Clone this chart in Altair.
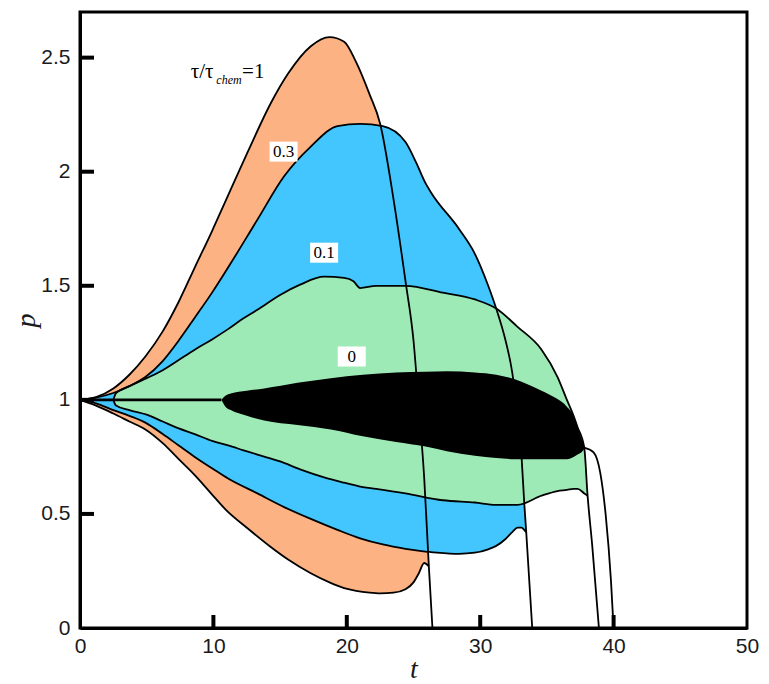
import altair as alt
import pandas as pd

# ---------------- data ----------------
# tau/tau_chem = 1 (orange)
ORANGE_T = [0, 1.2, 2.5, 3.7, 4.9, 6.2, 7.4, 8.6, 9.9, 10.9, 12.6, 14.3, 15.6, 17.3, 18.7,
            19.8, 20.7, 21.7, 22.5, 23.5, 24.4, 25.0, 25.4, 25.8, 26.15]
ORANGE_UP = [1.0, 1.012, 1.05, 1.11, 1.19, 1.30, 1.43, 1.58, 1.74, 1.87, 2.09, 2.30, 2.43, 2.55, 2.59,
             2.57, 2.48, 2.34, 2.21, 1.88, 1.52, 1.26, 0.97, 0.66, 0.27]
ORANGE_LO = [1.0, 0.975, 0.94, 0.905, 0.87, 0.81, 0.74, 0.67, 0.585, 0.52, 0.435, 0.355, 0.30, 0.24, 0.20,
             0.175, 0.163, 0.155, 0.152, 0.155, 0.17, 0.20, 0.24, 0.285, 0.27]
ORANGE_TAIL_T = [26.42]
ORANGE_TAIL_P = [0.0]

# tau/tau_chem = 0.3 (blue)
BLUE_T = [0, 1.2, 2.5, 3.7, 4.9, 6.2, 7.4, 8.6, 9.9, 11.1, 13.3, 15.3, 17.3, 19.3, 21.0, 22.7,
          24.4, 25.2, 25.9, 26.3, 28.4, 29.6, 30.6, 31.2, 31.9, 32.4, 32.8, 33.1, 33.3, 33.45]
BLUE_UP = [1.0, 1.01, 1.03, 1.06, 1.10, 1.17, 1.26, 1.36, 1.47, 1.58, 1.79, 1.98, 2.11, 2.20, 2.21, 2.20,
           2.13, 2.04, 1.95, 1.91, 1.75, 1.64, 1.50, 1.40, 1.26, 1.12, 0.93, 0.75, 0.55, 0.42]
BLUE_LO = [1.0, 0.985, 0.955, 0.93, 0.90, 0.85, 0.80, 0.75, 0.70, 0.655, 0.59, 0.53, 0.478, 0.43, 0.393, 0.366,
           0.347, 0.34, 0.335, 0.333, 0.325, 0.33, 0.345, 0.36, 0.39, 0.42, 0.44, 0.44, 0.43, 0.42]
BLUE_TAIL_T = [33.9]
BLUE_TAIL_P = [0.0]

# tau/tau_chem = 0.1 (green)
GREEN_T = [2.5, 2.7, 3.7, 5.0, 6.2, 7.4, 8.6, 9.9, 11.1, 12.2, 13.3, 15.0, 16.5, 18.3, 19.8, 20.5,
           21.0, 22.2, 24.4, 27.2, 29.6, 31.2, 32.8, 34.6, 35.8, 36.5, 37.0, 37.3, 37.8, 38.05]
GREEN_UP = [1.0, 1.03, 1.06, 1.095, 1.13, 1.175, 1.22, 1.265, 1.31, 1.355, 1.395, 1.46, 1.505, 1.54, 1.535, 1.52,
            1.49, 1.50, 1.50, 1.47, 1.44, 1.40, 1.32, 1.22, 1.10, 1.00, 0.93, 0.88, 0.79, 0.58]
GREEN_LO = [1.0, 0.975, 0.955, 0.935, 0.905, 0.875, 0.85, 0.82, 0.80, 0.78, 0.76, 0.73, 0.695, 0.66, 0.637, 0.627,
            0.62, 0.61, 0.59, 0.56, 0.55, 0.54, 0.54, 0.58, 0.60, 0.605, 0.61, 0.61, 0.59, 0.58]
GREEN_TAIL_T = [38.4, 38.9]
GREEN_TAIL_P = [0.36, 0.0]

# tau/tau_chem = 0 (black)
BLACK_LINE_T = [0, 10.6]
BLACK_LINE_P = [1.0, 1.0]
BLACK_T = [10.6, 10.9, 11.3, 12.5, 13.8, 16.3, 18.8, 21.2, 23.7, 25.9, 27.5, 29.6, 31.2, 32.6,
           33.5, 34.6, 35.6, 36.5, 37.0, 37.3, 37.6, 37.85]
BLACK_UP = [1.0, 1.018, 1.028, 1.04, 1.05, 1.075, 1.095, 1.11, 1.12, 1.123, 1.125, 1.12, 1.11, 1.09,
            1.07, 1.04, 1.01, 0.97, 0.93, 0.88, 0.83, 0.79]
BLACK_LO = [1.0, 0.97, 0.955, 0.93, 0.91, 0.89, 0.87, 0.84, 0.815, 0.795, 0.775, 0.755, 0.745, 0.74,
            0.74, 0.74, 0.74, 0.74, 0.75, 0.76, 0.77, 0.79]
BLACK_TAIL_T = [38.5, 39.0, 39.4, 39.8, 40.0]
BLACK_TAIL_P = [0.77, 0.68, 0.50, 0.21, 0.0]

# labels
BOX_TEXT = ["0.3", "0.1", "0"]
BOX_T = [15.26, 18.30, 20.37]
BOX_P = [2.088, 1.645, 1.19]

TAU_TEXT = ["τ/τ", "=1"]
TAU_T = [8.3, 12.15]
TAU_P = [2.412, 2.412]
SUB_TEXT = ["chem"]
SUB_T = [10.22]
SUB_P = [2.385]

X_TICKS = [0, 10, 20, 30, 40, 50]
Y_TICKS = [0, 0.5, 1, 1.5, 2, 2.5]
X_INNER_TICKS = [10, 20, 30, 40]
Y_INNER_TICKS = [0.5, 1, 1.5, 2, 2.5]

COLORS = {"orange": "#FCB282", "blue": "#43C6FE", "green": "#9EEAB6", "black": "#000000"}

# ---------------- build tables ----------------
series = {
    "orange": (ORANGE_T, ORANGE_UP, ORANGE_LO, ORANGE_TAIL_T, ORANGE_TAIL_P),
    "blue": (BLUE_T, BLUE_UP, BLUE_LO, BLUE_TAIL_T, BLUE_TAIL_P),
    "green": (GREEN_T, GREEN_UP, GREEN_LO, GREEN_TAIL_T, GREEN_TAIL_P),
    "black": (BLACK_T, BLACK_UP, BLACK_LO, BLACK_TAIL_T, BLACK_TAIL_P),
}

area_tables = {}
line_rows = []
for name, (ts, up, lo, tt, tp) in series.items():
    area_tables[name] = pd.DataFrame({"t": ts, "p": up, "lo": lo})
    if name != "black":
        for t, p in zip(list(ts) + list(tt), list(up) + list(tp)):
            line_rows.append({"t": t, "p": p, "key": name + "_up"})
        for t, p in zip(ts, lo):
            line_rows.append({"t": t, "p": p, "key": name + "_lo"})
    else:
        for t, p in zip([ts[-1]] + list(tt), [up[-1]] + list(tp)):
            line_rows.append({"t": t, "p": p, "key": name + "_tail"})
lines_df = pd.DataFrame(line_rows)
black_line_df = pd.DataFrame({"t": BLACK_LINE_T, "p": BLACK_LINE_P})

W, H = 667, 616
xscale = alt.Scale(domain=[0, 50], nice=False, zero=False)
yscale = alt.Scale(domain=[0, 2.7], nice=False, zero=False)
xaxis = alt.Axis(values=X_TICKS, title="t", labelFlush=False, labelPadding=7,
                 titleX=W / 2, titleY=49, titleAlign="center", titleBaseline="alphabetic")
yaxis = alt.Axis(values=Y_TICKS, format="~g", title="p", labelPadding=10,
                 titleAngle=270, titleX=-54, titleY=H / 2, titleAlign="center", titleBaseline="middle")


def X(f):
    return alt.X(f"{f}:Q", scale=xscale, axis=xaxis)


def Y(f):
    return alt.Y(f"{f}:Q", scale=yscale, axis=yaxis)


layers = []
for name in ["orange", "blue", "green", "black"]:
    layers.append(
        alt.Chart(area_tables[name]).mark_area(interpolate="monotone", color=COLORS[name], opacity=1)
        .encode(x=X("t"), y=Y("p"), y2=alt.Y2("lo:Q"))
    )

layers.append(
    alt.Chart(lines_df).mark_line(interpolate="monotone", color="black", strokeWidth=1.8)
    .encode(x=X("t"), y=Y("p"), detail="key:N")
)
layers.append(
    alt.Chart(black_line_df).mark_line(color="black", strokeWidth=2.6)
    .encode(x=X("t"), y=Y("p"))
)

box_df = pd.DataFrame({"t": BOX_T, "p": BOX_P, "text": BOX_TEXT})
layers.append(
    alt.Chart(box_df).mark_point(shape="M-1.4,-1H1.4V1H-1.4Z", size=400, filled=True,
                                 color="white", opacity=1, strokeWidth=0)
    .encode(x=X("t"), y=Y("p"))
)
layers.append(
    alt.Chart(box_df).mark_text(font="Liberation Serif", fontSize=17, color="black",
                                align="center", baseline="middle")
    .encode(x=X("t"), y=Y("p"), text="text:N")
)

tau_df = pd.DataFrame({"t": TAU_T, "p": TAU_P, "text": TAU_TEXT})
layers.append(
    alt.Chart(tau_df).mark_text(font="Liberation Serif", fontSize=21, color="black",
                                align="left", baseline="alphabetic")
    .encode(x=X("t"), y=Y("p"), text="text:N")
)
sub_df = pd.DataFrame({"t": SUB_T, "p": SUB_P, "text": SUB_TEXT})
layers.append(
    alt.Chart(sub_df).mark_text(font="Liberation Serif", fontSize=12, fontStyle="italic", color="black",
                                align="left", baseline="alphabetic")
    .encode(x=X("t"), y=Y("p"), text="text:N")
)

xt_df = pd.DataFrame({"tick": X_INNER_TICKS})
layers.append(
    alt.Chart(xt_df).mark_rule(color="black", strokeWidth=4)
    .encode(x=X("tick"), y=alt.value(H), y2=alt.value(H - 13))
)
yt_df = pd.DataFrame({"tick": Y_INNER_TICKS})
layers.append(
    alt.Chart(yt_df).mark_rule(color="black", strokeWidth=4)
    .encode(y=Y("tick"), x=alt.value(0), x2=alt.value(14))
)

chart = (
    alt.layer(*layers)
    .properties(width=W, height=H, autosize=alt.AutoSizeParams(type="none"),
                padding={"left": 72, "top": 4, "right": 14, "bottom": 56})
    .configure_view(stroke="black", strokeWidth=3)
    .configure_axis(grid=False, ticks=False, tickSize=0, domainColor="black", domainWidth=3,
                    labelFont="Liberation Sans", labelFontSize=21, labelColor="#1a1a1a",
                    titleFont="Liberation Serif", titleFontStyle="italic", titleFontWeight="normal",
                    titleFontSize=28, titleColor="#1a1a1a")
)

chart.save("out.html", embed_options={"renderer": "svg", "actions": False})
